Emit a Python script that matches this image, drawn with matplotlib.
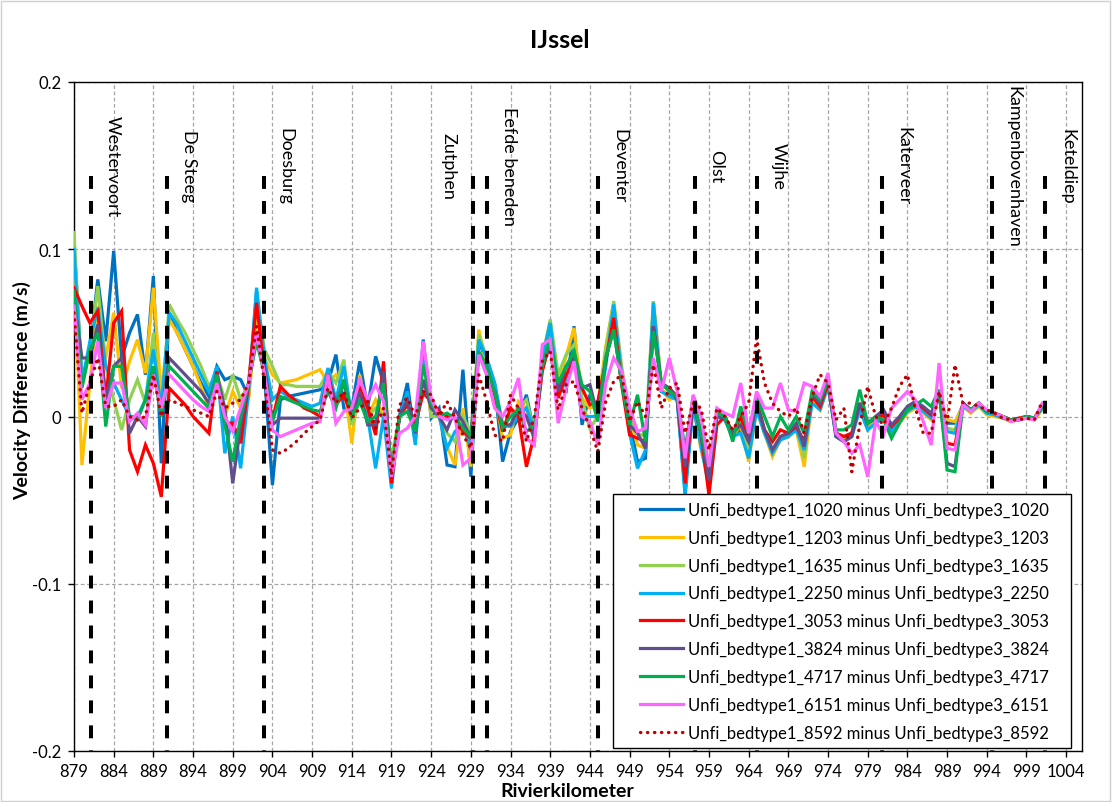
import matplotlib
matplotlib.use("Agg")
import matplotlib.pyplot as plt
from matplotlib.patches import Rectangle

plt.rcParams['font.family'] = ['Lato', 'DejaVu Sans']

# River kilometres of the computation points
km = list(range(879, 1002))

# Velocity difference (m/s), bedtype1 minus bedtype3, per discharge (m3/s)
diff_1020 = [
    0.105, 0.022, 0.040, 0.082, 0.045, 0.099, 0.035, 0.050, 0.061, 0.025,
    0.084, -0.028, 0.062, 0.050, 0.040, 0.030, 0.020, 0.012, 0.030, 0.022,
    0.024, 0.022, 0.012, 0.075, 0.025, -0.041, 0.010, 0.012, 0.013, 0.014,
    0.015, 0.016, 0.020, 0.037, 0.005, 0.005, 0.033, 0.005, 0.036, 0.020,
    -0.035, 0.000, 0.020, -0.015, 0.046, -0.001, 0.005, -0.029, -0.030, 0.028,
    -0.036, 0.045, 0.033, 0.019, -0.027, -0.009, -0.001, 0.013, -0.011, 0.033,
    0.054, 0.017, 0.015, 0.054, -0.005, 0.013, 0.000, 0.040, 0.064, 0.027,
    -0.003, -0.027, -0.025, 0.064, 0.015, 0.013, 0.010, -0.045, 0.010, -0.012,
    -0.040, 0.000, -0.002, -0.012, -0.008, -0.022, 0.008, -0.010, -0.020, -0.012,
    -0.010, -0.006, -0.022, 0.012, 0.006, 0.020, -0.010, -0.012, -0.010, 0.007,
    -0.006, -0.002, 0.002, -0.008, -0.002, 0.004, 0.007, 0.004, 0.000, 0.013,
    -0.004, -0.004, 0.007, 0.004, 0.008, 0.003, 0.002, 0.000, -0.002, -0.002,
    0.000, -0.001, 0.006,
]
diff_1203 = [
    0.086, -0.029, 0.020, 0.066, 0.035, 0.062, 0.017, 0.033, 0.046, 0.026,
    0.077, 0.013, 0.058, 0.050, 0.040, 0.030, 0.018, 0.005, 0.020, 0.000,
    0.015, 0.005, 0.010, 0.060, 0.035, 0.025, 0.020, 0.021, 0.022, 0.024,
    0.026, 0.028, 0.020, 0.025, 0.020, -0.016, 0.025, 0.000, 0.010, 0.000,
    -0.030, 0.000, 0.009, -0.010, 0.035, 0.000, 0.000, -0.018, -0.029, 0.005,
    -0.030, 0.052, 0.030, 0.015, -0.013, -0.011, 0.009, 0.005, -0.015, 0.033,
    0.056, 0.019, 0.036, 0.053, 0.011, 0.005, 0.007, 0.042, 0.068, 0.025,
    -0.001, -0.017, -0.019, 0.069, 0.017, 0.010, 0.012, -0.035, 0.008, -0.020,
    -0.038, 0.002, 0.000, -0.012, -0.005, -0.027, 0.004, -0.010, -0.024, -0.014,
    -0.012, -0.008, -0.030, 0.010, 0.004, 0.018, -0.010, -0.014, -0.010, 0.005,
    -0.008, -0.003, 0.000, -0.010, -0.004, 0.002, 0.005, 0.002, -0.002, 0.012,
    -0.002, -0.003, 0.006, 0.002, 0.006, 0.001, 0.000, -0.001, -0.003, -0.002,
    -0.001, -0.002, 0.004,
]
diff_1635 = [
    0.110, 0.018, 0.040, 0.078, 0.030, 0.010, -0.008, 0.010, 0.022, 0.008,
    0.050, 0.000, 0.067, 0.058, 0.050, 0.040, 0.030, 0.018, 0.025, 0.010,
    0.025, 0.010, 0.020, 0.070, 0.040, 0.030, 0.019, 0.019, 0.018, 0.018,
    0.018, 0.018, 0.027, 0.020, 0.034, -0.005, 0.010, 0.000, 0.005, 0.000,
    -0.025, 0.000, 0.010, -0.010, 0.040, 0.000, 0.000, -0.010, -0.015, 0.000,
    -0.010, 0.049, 0.035, 0.020, -0.007, -0.005, 0.005, 0.010, -0.010, 0.035,
    0.058, 0.025, 0.037, 0.043, 0.010, -0.007, 0.000, 0.040, 0.069, 0.030,
    0.000, -0.010, -0.012, 0.069, 0.020, 0.015, 0.012, -0.030, 0.010, -0.015,
    -0.035, 0.003, 0.000, -0.010, -0.004, -0.020, 0.006, -0.008, -0.020, -0.012,
    -0.010, -0.006, -0.025, 0.012, 0.006, 0.020, -0.010, -0.012, -0.010, 0.006,
    -0.005, -0.002, 0.001, -0.008, -0.002, 0.004, 0.007, 0.004, 0.000, 0.013,
    -0.007, -0.008, 0.007, 0.003, 0.007, 0.002, 0.001, 0.000, -0.002, -0.002,
    0.000, -0.001, 0.005,
]
diff_2250 = [
    0.100, 0.020, 0.045, 0.065, 0.030, 0.020, 0.010, 0.000, 0.000, 0.010,
    0.040, 0.005, 0.062, 0.055, 0.045, 0.035, 0.025, 0.015, 0.030, -0.022,
    0.000, -0.031, 0.015, 0.077, 0.035, 0.010, 0.015, 0.012, 0.010, 0.008,
    0.006, 0.008, 0.029, 0.010, 0.030, 0.000, 0.010, 0.000, -0.031, 0.000,
    -0.043, 0.000, 0.015, -0.017, 0.040, 0.006, 0.000, -0.019, -0.009, -0.005,
    -0.020, 0.046, 0.035, 0.020, -0.005, -0.006, 0.000, 0.005, -0.008, 0.035,
    0.056, 0.015, 0.020, 0.040, 0.000, 0.000, 0.000, 0.030, 0.067, 0.025,
    -0.010, -0.031, -0.020, 0.068, 0.015, 0.012, 0.010, -0.048, 0.006, -0.018,
    -0.042, 0.000, -0.002, -0.012, -0.010, -0.025, 0.004, -0.010, -0.022, -0.014,
    -0.012, -0.008, -0.020, 0.008, 0.004, 0.018, -0.012, -0.015, -0.012, 0.004,
    -0.008, -0.004, 0.000, -0.009, -0.003, 0.003, 0.006, 0.003, -0.001, 0.012,
    -0.009, -0.010, 0.006, 0.003, 0.007, 0.002, 0.001, -0.001, -0.002, -0.002,
    -0.001, -0.001, 0.005,
]
diff_3053 = [
    0.077, 0.066, 0.056, 0.063, 0.010, 0.056, 0.063, -0.020, -0.033, -0.017,
    -0.028, -0.048, 0.017, 0.012, 0.007, 0.000, -0.005, -0.010, 0.027, -0.004,
    -0.004, -0.016, 0.020, 0.068, 0.027, -0.002, 0.018, 0.013, 0.009, 0.005,
    0.003, 0.000, 0.025, 0.007, 0.013, 0.000, 0.017, 0.005, -0.011, 0.033,
    -0.040, 0.000, 0.007, -0.005, 0.014, 0.009, 0.003, 0.000, -0.001, -0.009,
    -0.013, 0.037, 0.030, 0.013, -0.009, 0.005, 0.000, -0.030, -0.011, 0.027,
    0.045, 0.011, 0.025, 0.033, 0.017, 0.007, 0.009, 0.033, 0.059, 0.019,
    -0.011, -0.013, -0.015, 0.054, 0.019, 0.017, 0.012, -0.040, 0.010, -0.010,
    -0.047, -0.005, 0.000, -0.010, 0.000, -0.015, 0.010, -0.008, -0.015, -0.008,
    -0.010, -0.006, -0.015, 0.012, 0.006, 0.020, -0.010, -0.012, -0.010, 0.008,
    -0.004, -0.001, 0.001, -0.006, -0.001, 0.005, 0.008, 0.005, 0.001, 0.014,
    -0.016, -0.017, 0.008, 0.004, 0.008, 0.003, 0.002, 0.000, -0.002, -0.001,
    0.000, -0.001, 0.007,
]
diff_3824 = [
    0.070, 0.035, 0.035, 0.055, 0.010, 0.030, 0.035, -0.010, 0.000, -0.006,
    0.030, 0.000, 0.035, 0.030, 0.025, 0.020, 0.015, 0.008, 0.025, 0.005,
    -0.040, -0.005, 0.020, 0.050, 0.030, -0.005, -0.001, -0.001, -0.001, -0.001,
    -0.001, -0.001, 0.022, 0.008, 0.020, 0.003, 0.015, -0.005, -0.005, 0.027,
    -0.035, 0.000, 0.010, -0.010, 0.022, 0.005, 0.000, -0.008, 0.004, -0.003,
    -0.013, 0.038, 0.025, 0.015, -0.005, -0.005, 0.005, 0.000, -0.013, 0.030,
    0.043, 0.015, 0.030, 0.035, 0.017, 0.019, 0.000, 0.035, 0.052, 0.020,
    -0.005, -0.010, -0.019, 0.054, 0.020, 0.017, 0.010, -0.030, 0.008, -0.010,
    -0.038, 0.000, -0.001, -0.010, -0.005, -0.015, 0.008, -0.008, -0.020, -0.012,
    -0.010, -0.004, -0.018, 0.014, 0.008, 0.022, -0.012, -0.015, -0.012, 0.008,
    -0.004, 0.000, 0.004, -0.005, 0.000, 0.006, 0.009, 0.006, 0.002, 0.014,
    -0.028, -0.030, 0.008, 0.004, 0.008, 0.003, 0.002, 0.000, -0.002, -0.002,
    0.000, -0.001, 0.006,
]
diff_4717 = [
    0.075, 0.017, 0.040, 0.050, -0.006, 0.030, 0.030, 0.000, -0.002, 0.010,
    0.030, 0.000, 0.030, 0.025, 0.020, 0.015, 0.010, 0.005, 0.025, -0.005,
    -0.027, 0.000, 0.020, 0.045, 0.025, -0.003, 0.012, 0.010, 0.008, 0.006,
    0.004, 0.003, 0.015, 0.005, 0.022, 0.000, 0.009, -0.003, 0.000, 0.020,
    -0.035, 0.000, 0.003, -0.009, 0.031, 0.008, 0.000, 0.002, -0.001, -0.007,
    -0.012, 0.039, 0.030, 0.015, -0.007, 0.000, 0.004, -0.009, -0.005, 0.030,
    0.047, 0.020, 0.030, 0.039, 0.019, 0.015, -0.003, 0.035, 0.052, 0.020,
    -0.005, 0.013, -0.015, 0.051, 0.020, 0.015, 0.012, -0.020, 0.012, -0.010,
    -0.030, 0.002, 0.000, -0.015, 0.006, -0.010, 0.012, 0.000, -0.012, 0.000,
    -0.008, 0.000, -0.010, 0.015, 0.010, 0.022, -0.008, -0.008, -0.005, 0.016,
    -0.004, 0.000, -0.002, -0.013, -0.004, 0.004, 0.007, 0.010, 0.006, 0.016,
    -0.032, -0.033, 0.007, 0.004, 0.008, 0.003, 0.002, 0.000, -0.002, -0.002,
    0.000, -0.001, 0.006,
]
diff_6151 = [
    0.066, 0.010, 0.020, 0.045, 0.005, 0.020, 0.020, -0.003, 0.002, -0.005,
    0.025, 0.005, 0.025, 0.020, 0.015, 0.010, 0.006, 0.003, 0.020, 0.000,
    -0.009, 0.005, 0.020, 0.050, 0.025, -0.008, -0.012, -0.010, -0.008, -0.006,
    -0.004, -0.003, 0.025, -0.004, 0.003, 0.005, 0.022, 0.010, 0.019, 0.009,
    -0.036, -0.010, -0.007, 0.000, 0.045, 0.011, 0.000, -0.002, 0.000, -0.029,
    -0.025, 0.037, 0.025, 0.005, 0.000, 0.009, 0.023, -0.013, -0.017, 0.043,
    0.046, -0.004, 0.017, 0.033, 0.000, -0.003, -0.017, 0.020, 0.035, 0.027,
    0.005, -0.009, -0.007, 0.035, 0.015, 0.035, 0.015, -0.025, 0.013, 0.000,
    -0.030, 0.005, 0.002, 0.000, 0.020, -0.010, 0.015, 0.005, 0.005, 0.020,
    0.004, 0.003, 0.020, 0.018, 0.012, 0.026, -0.010, -0.015, -0.022, -0.017,
    -0.036, -0.003, -0.011, 0.005, 0.010, 0.015, 0.010, -0.003, -0.017, 0.032,
    -0.019, -0.020, 0.007, 0.003, 0.008, 0.004, 0.002, 0.000, -0.003, -0.002,
    -0.001, -0.002, 0.008,
]
diff_8592 = [
    0.062, 0.002, 0.020, 0.035, 0.006, 0.006, 0.010, 0.000, -0.002, 0.000,
    0.025, 0.000, 0.010, 0.008, 0.006, 0.004, 0.002, 0.000, 0.015, 0.005,
    0.008, 0.010, 0.020, 0.054, 0.020, -0.020, -0.022, -0.019, -0.015, -0.010,
    -0.006, -0.002, 0.017, 0.008, 0.015, -0.001, 0.005, 0.009, -0.007, 0.005,
    -0.035, 0.007, 0.011, 0.000, 0.015, 0.013, 0.000, 0.009, -0.001, -0.011,
    -0.019, 0.025, 0.009, -0.011, -0.015, 0.013, 0.005, -0.015, 0.000, 0.033,
    0.039, 0.004, 0.019, 0.021, 0.005, -0.007, -0.021, 0.009, 0.021, 0.025,
    -0.003, 0.009, 0.000, 0.031, 0.005, 0.017, 0.020, -0.010, 0.008, 0.005,
    -0.020, 0.005, 0.000, -0.008, 0.000, 0.008, 0.047, 0.020, 0.008, 0.003,
    0.000, 0.005, -0.010, 0.012, 0.025, 0.020, -0.002, 0.005, -0.033, -0.005,
    0.018, 0.000, -0.005, 0.005, 0.018, 0.025, 0.005, -0.010, -0.010, 0.015,
    -0.004, 0.031, 0.008, 0.008, 0.006, 0.004, 0.002, -0.001, -0.002, -0.002,
    -0.001, -0.002, 0.009,
]

discharges = ['1020', '1203', '1635', '2250', '3053', '3824', '4717', '6151', '8592']
series = [diff_1020, diff_1203, diff_1635, diff_2250, diff_3053,
          diff_3824, diff_4717, diff_6151, diff_8592]
colors = ['#0070C0', '#FFC000', '#92D050', '#00B0F0', '#FF0000',
          '#604E8C', '#00B050', '#FF66FF', '#C00000']

# Landmarks along the IJssel (river km)
places = ['Westervoort', 'De Steeg', 'Doesburg', 'Zutphen', 'Eefde beneden',
          'Deventer', 'Olst', 'Wijhe', 'Katerveer', 'Kampenbovenhaven', 'Keteldiep']
place_km = [881.1, 890.7, 902.9, 929.25, 931.0, 945.0, 957.2, 965.1, 980.8, 994.6, 1001.4]
place_side = [1, 1, 1, -1, 1, 1, 1, 1, 1, 1, 1]

xticks = list(range(879, 1005, 5))
yticks = [-0.2, -0.1, 0.0, 0.1, 0.2]
ytick_labels = ['-0.2', '-0.1', '0', '0.1', '0.2']

W, H = 1112, 803
fig = plt.figure(figsize=(W / 100, H / 100), dpi=100)
ax = fig.add_axes([74 / W, 1 - 752 / H, (1082 - 74) / W, (752 - 83) / H])

for name, values, color in zip(discharges, series, colors):
    label = f'Unfi_bedtype1_{name} minus Unfi_bedtype3_{name}'
    if name == '8592':
        ax.plot(km, values, color=color, lw=2.4, linestyle=(0, (0.1, 2.0)),
                dash_capstyle='round', label=label, zorder=4)
    else:
        ax.plot(km, values, color=color, lw=2.3, label=label,
                solid_joinstyle='miter', zorder=3)

for name, pos, side in zip(places, place_km, place_side):
    ax.plot([pos, pos], [0.1435, -0.2], color='black', lw=2.9,
            linestyle=(0, (3.2, 3.0)), zorder=5)
    offset = 2.75 if side > 0 else -3.1
    ax.text(pos + offset, 0.15, name, rotation=270, ha='center', va='center',
            fontsize=13, color='black')

ax.set_xlim(879, 1006)
ax.set_ylim(-0.2, 0.2)
ax.set_xticks(xticks)
ax.set_xticklabels([str(t) for t in xticks])
ax.set_yticks(yticks)
ax.set_yticklabels(ytick_labels)
ax.tick_params(axis='both', direction='out', length=4, width=1, labelsize=12,
               color='black', pad=5)
ax.grid(True, color='#A6A6A6', linestyle=(0, (3, 2)), lw=0.9)
ax.set_axisbelow(True)
for s in ax.spines.values():
    s.set_color('black')
    s.set_linewidth(1.0)

# Legend box drawn separately so its padding can be set freely
ax.add_patch(Rectangle((613 / W, 1 - 749 / H), (1071 - 613) / W, (749 - 495) / H,
                       transform=fig.transFigure, facecolor='white',
                       edgecolor='black', lw=1.0, zorder=9, clip_on=False))
leg = ax.legend(loc='upper left', bbox_to_anchor=(640 / W, 1 - 503 / H),
                bbox_transform=fig.transFigure, fontsize=12, frameon=False,
                handlelength=2.6, handletextpad=0.3, labelspacing=0.71,
                borderpad=0, borderaxespad=0)
leg.set_zorder(10)

fig.text(0.503, 1 - 40 / H, 'IJssel', ha='center', va='center',
         fontsize=18, fontweight='bold')
fig.text(22 / W, 1 - 391 / H, 'Velocity Difference (m/s)', rotation=90,
         ha='center', va='center', fontsize=14, fontweight='bold')
fig.text(567 / W, 1 - 792 / H, 'Rivierkilometer', ha='center', va='center',
         fontsize=14, fontweight='bold')

fig.patches.append(Rectangle((0.5 / W, 1.5 / H), 1 - 3 / W, 1 - 3 / H,
                             transform=fig.transFigure, fill=False,
                             edgecolor='#D0D0D0', lw=1.0))

fig.savefig('out.png', dpi=100)
